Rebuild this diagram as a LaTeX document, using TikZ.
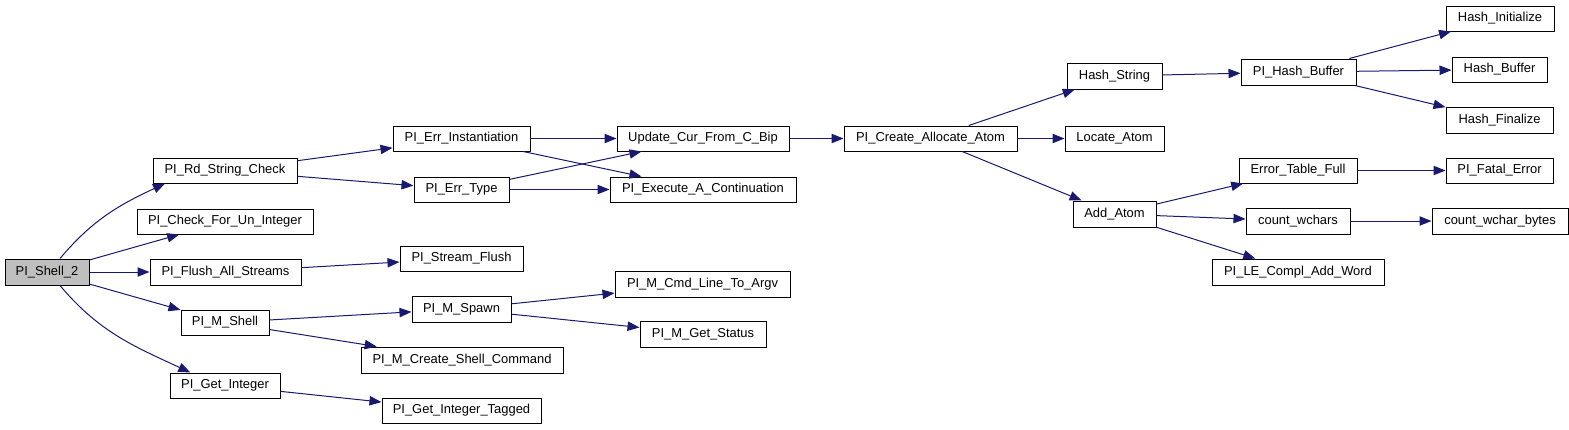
\documentclass[tikz,border=0pt]{standalone}
\usepackage{fontspec}
\setmainfont{Liberation Sans}
\usetikzlibrary{arrows.meta}
\definecolor{edgecol}{HTML}{191970}
\definecolor{rootfill}{HTML}{BFBFBF}
\newcommand\bx[7][]{\node[box,#1,minimum width={(#5-#3)*0.75pt},minimum height={(#6-#4)*0.75pt}] (#2) at ({(#3+#5)/2},{(#4+#6)/2}) {#7};}
\begin{document}
\begin{tikzpicture}[x=0.75pt,y=-0.75pt,
  box/.style={draw=black,line width=0.75pt,fill=white,inner sep=0pt,font=\fontsize{9.7pt}{11pt}\selectfont},
  root/.style={fill=rootfill},
  edge/.style={draw=edgecol,line width=0.75pt,-{Triangle[length=9pt,width=7pt]}}]
\useasboundingbox (0,0) rectangle (1569,429);
\bx[root]{sh}{5}{259}{89}{285}{PI\_Shell\_2}
\bx{rd}{153}{158}{297}{183}{PI\_Rd\_String\_Check}
\bx{chk}{137}{209}{313}{234}{PI\_Check\_For\_Un\_Integer}
\bx{fl}{150}{259}{301}{285}{PI\_Flush\_All\_Streams}
\bx{ms}{181}{310}{269}{335}{PI\_M\_Shell}
\bx{gi}{170}{373}{280}{398}{PI\_Get\_Integer}
\bx{ei}{393}{126}{530}{151}{PI\_Err\_Instantiation}
\bx{et}{414}{177}{509}{202}{PI\_Err\_Type}
\bx{up}{617}{126}{789}{151}{Update\_Cur\_From\_C\_Bip}
\bx{ex}{610}{177}{796}{202}{PI\_Execute\_A\_Continuation}
\bx{sf}{400}{246}{523}{271}{PI\_Stream\_Flush}
\bx{sp}{412}{296}{511}{322}{PI\_M\_Spawn}
\bx{cs}{361}{347}{563}{373}{PI\_M\_Create\_Shell\_Command}
\bx{git}{382}{398}{541}{423}{PI\_Get\_Integer\_Tagged}
\bx{cl}{615}{271}{790}{297}{PI\_M\_Cmd\_Line\_To\_Argv}
\bx{gs}{640}{321}{766}{347}{PI\_M\_Get\_Status}
\bx{ca}{844}{126}{1017}{151}{PI\_Create\_Allocate\_Atom}
\bx{hs}{1067}{63}{1162}{89}{Hash\_String}
\bx{la}{1065}{126}{1164}{151}{Locate\_Atom}
\bx{aa}{1073}{201}{1156}{227}{Add\_Atom}
\bx{hb}{1241}{59}{1356}{85}{PI\_Hash\_Buffer}
\bx{hi}{1446}{6}{1554}{31}{Hash\_Initialize}
\bx{hbu}{1452}{57}{1547}{82}{Hash\_Buffer}
\bx{hf}{1446}{107}{1553}{133}{Hash\_Finalize}
\bx{etf}{1239}{158}{1357}{183}{Error\_Table\_Full}
\bx{fe}{1446}{158}{1553}{183}{PI\_Fatal\_Error}
\bx{cw}{1246}{208}{1350}{234}{count\_wchars}
\bx{cwb}{1432}{208}{1568}{234}{count\_wchar\_bytes}
\bx{le}{1212}{259}{1384}{285}{PI\_LE\_Compl\_Add\_Word}
% edges from root
\draw[edge] ([xshift=9.75pt]sh.north) to[out=50,in=205] ([xshift=-45pt]rd.south);
\draw[edge] (sh) -- (chk);
\draw[edge] (sh) -- (fl);
\draw[edge] (sh) -- (ms);
\draw[edge] ([xshift=9.75pt]sh.south) to[out=-50,in=155] ([xshift=-26pt]gi.north);
% other edges
\draw[edge] (rd) -- (ei);
\draw[edge] (rd) -- (et);
\draw[edge] (ei) -- (up);
\draw[edge] (ei) -- (ex);
\draw[edge] (et) -- (up);
\draw[edge] (et) -- (ex);
\draw[edge] (up) -- (ca);
\draw[edge] (ca) -- (hs);
\draw[edge] (ca) -- (la);
\draw[edge] (ca) -- (aa);
\draw[edge] (hs) -- (hb);
\draw[edge] (hb) -- (hi);
\draw[edge] (hb) -- (hbu);
\draw[edge] (hb) -- (hf);
\draw[edge] (aa) -- (etf);
\draw[edge] (aa) -- (cw);
\draw[edge] (aa) -- (le);
\draw[edge] (etf) -- (fe);
\draw[edge] (cw) -- (cwb);
\draw[edge] (fl) -- (sf);
\draw[edge] (ms) -- (sp);
\draw[edge] (ms) -- (cs);
\draw[edge] (sp) -- (cl);
\draw[edge] (sp) -- (gs);
\draw[edge] (gi) -- (git);
\end{tikzpicture}
\end{document}
